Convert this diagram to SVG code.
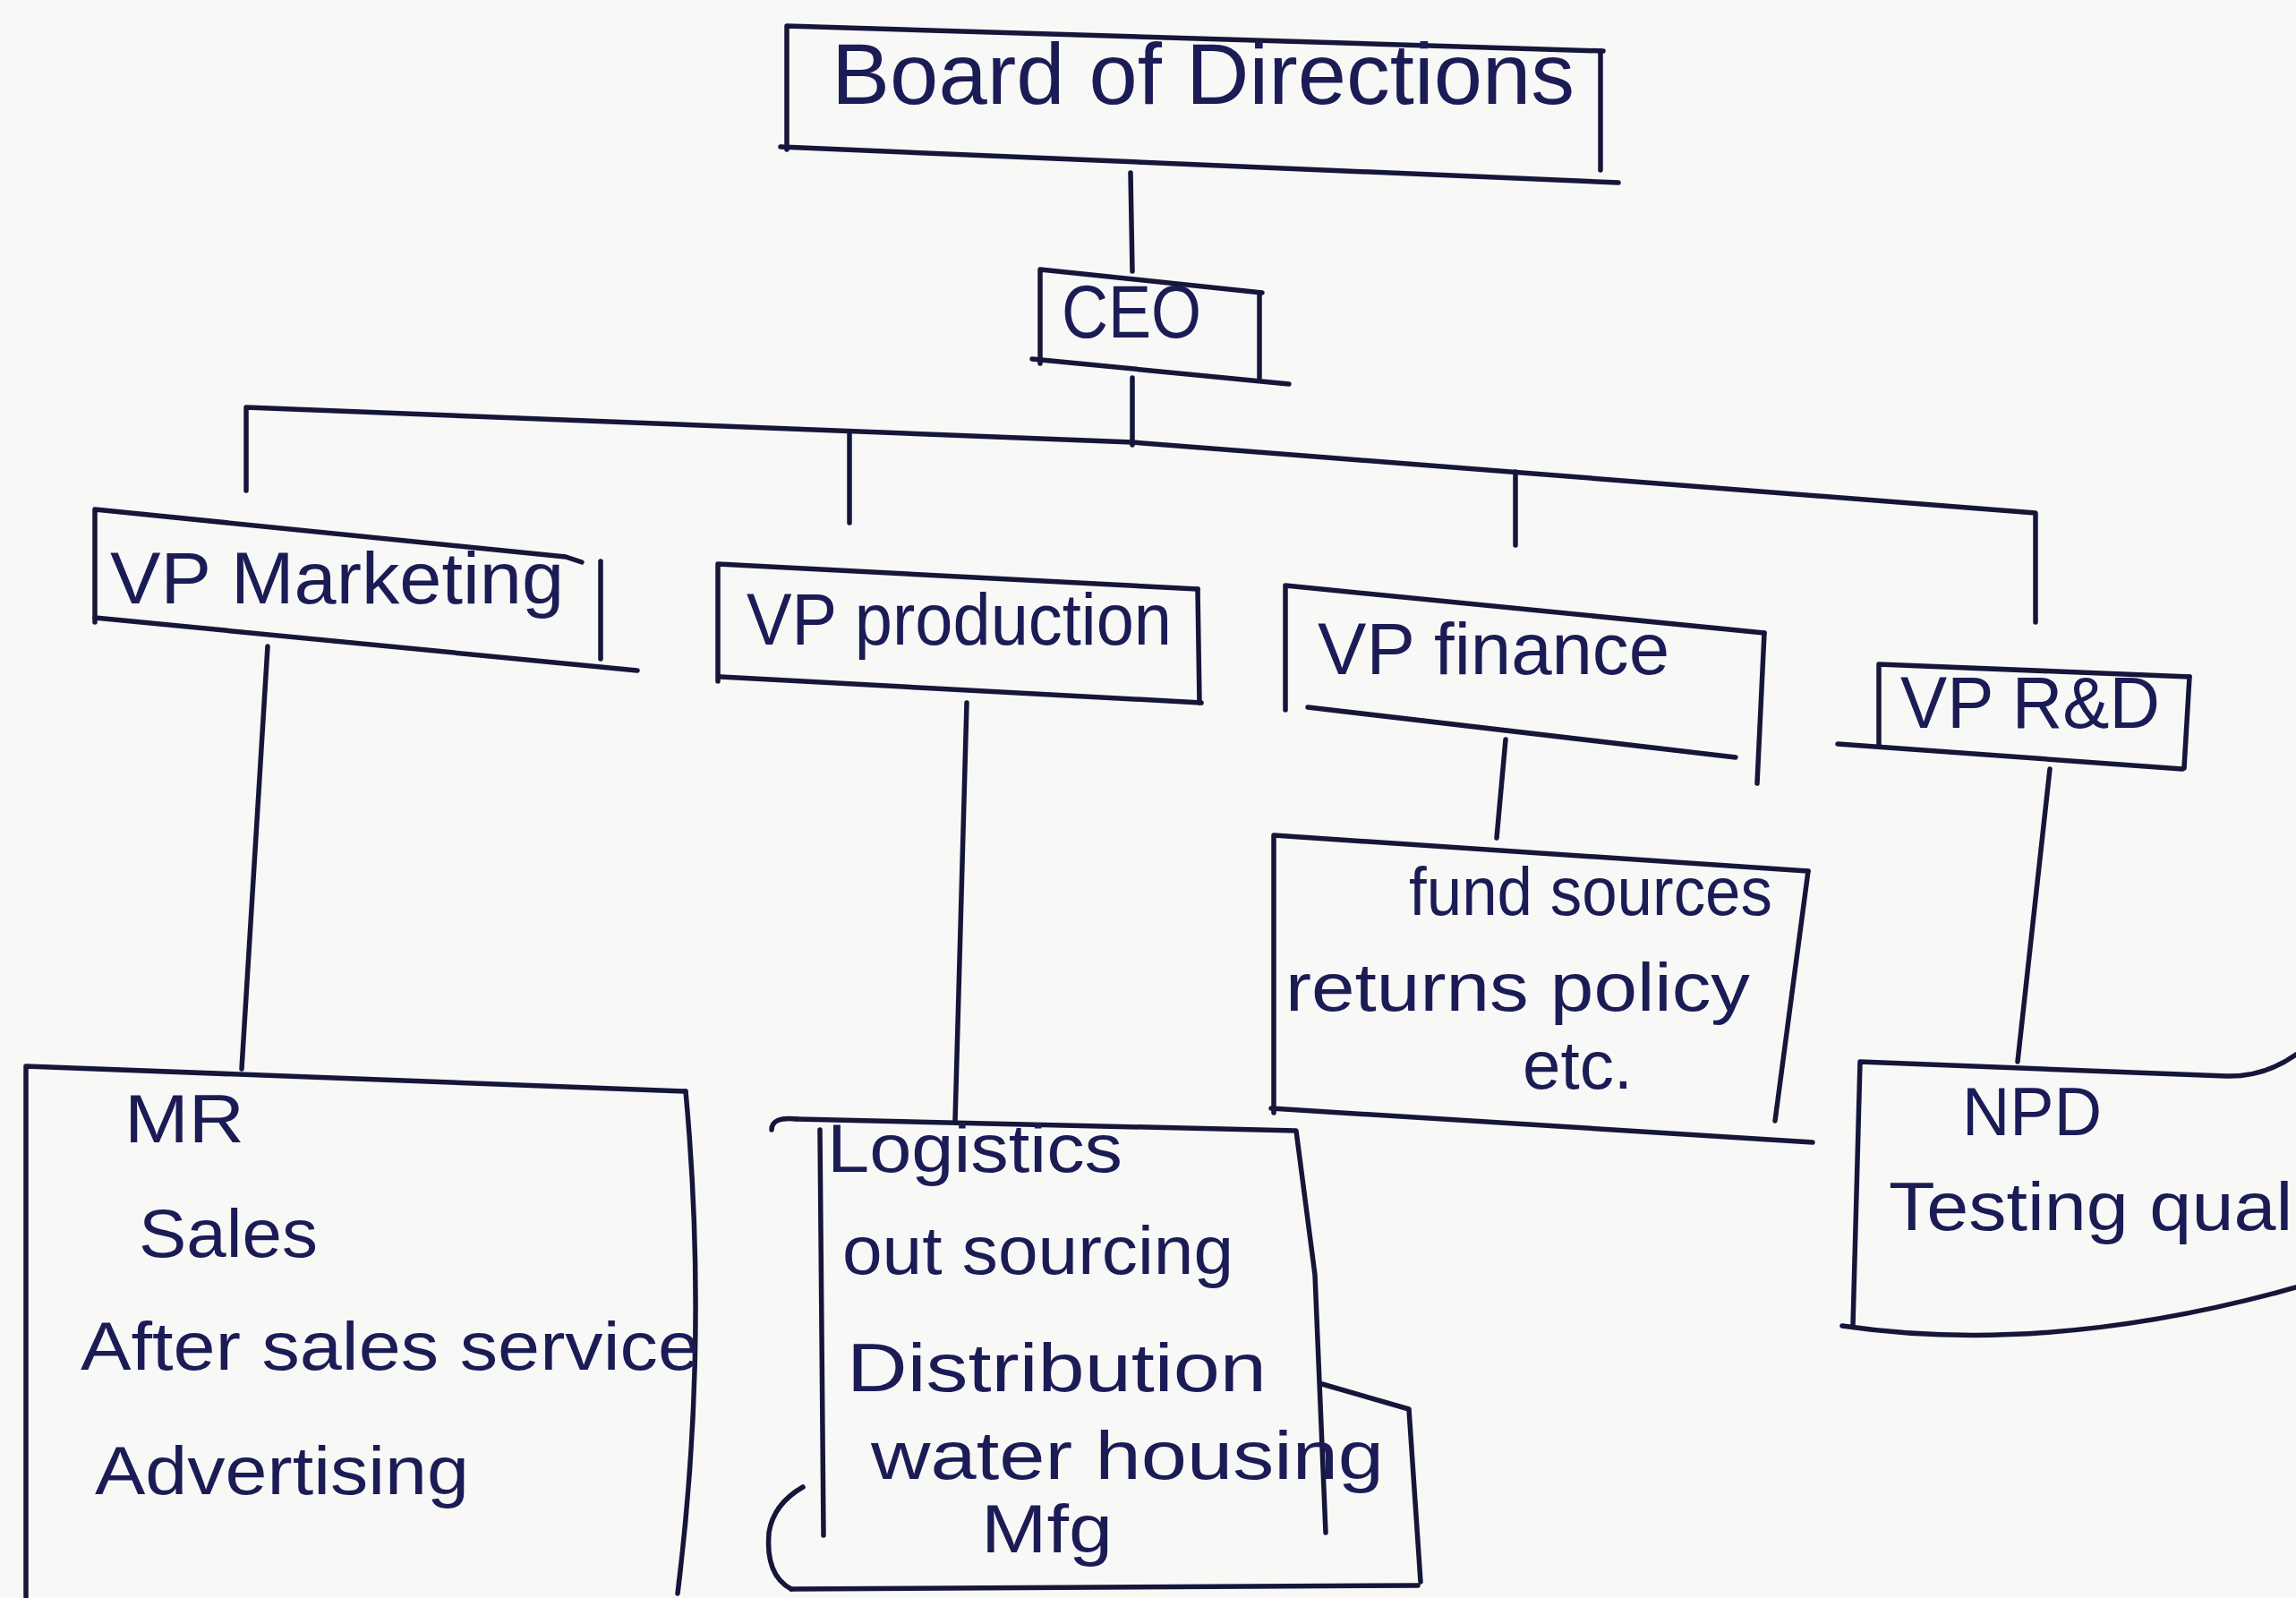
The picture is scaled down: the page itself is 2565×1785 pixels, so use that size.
<svg xmlns="http://www.w3.org/2000/svg" width="2565" height="1785" viewBox="0 0 2565 1785">
  <style>
    .ln { fill: none; stroke: #15163a; stroke-width: 5.5; stroke-linecap: round; stroke-linejoin: round; }
    .tx { font-family: "Liberation Sans", "DejaVu Sans", sans-serif; fill: #1b1c55; }
    .big { font-size: 96px; }
    .mid { font-size: 84px; }
    .vp { font-size: 82px; }
    .sm { font-size: 76px; }
  </style>
  <rect x="0" y="0" width="2565" height="1785" fill="#f8f8f6"/>

  <!-- connectors -->
  <g id="connectors">
    <path class="ln" d="M1263,193 L1265,303"/>
    <path class="ln" d="M1265,422 L1265,497"/>
    <path class="ln" d="M275,548 L275,455 L1265,494 L2274,573 L2274,695"/>
    <path class="ln" d="M949,482 L949,584"/>
    <path class="ln" d="M1693,527 L1693,609"/>
    <path class="ln" d="M299,722 L270,1194"/>
    <path class="ln" d="M1080,785 L1067,1252"/>
    <path class="ln" d="M1682,826 L1672,936"/>
    <path class="ln" d="M2290,859 L2254,1186"/>
  </g>

  <!-- Board -->
  <g id="board">
    <path class="ln" d="M879,167 L879,29 L1791,57"/>
    <path class="ln" d="M1788,57 L1788,190"/>
    <path class="ln" d="M872,164 L1808,204"/>
    <text class="tx big" x="929" y="116" textLength="830" lengthAdjust="spacingAndGlyphs">Board of Directions</text>
  </g>

  <!-- CEO -->
  <g id="ceo">
    <path class="ln" d="M1162,406 L1162,301 L1410,327"/>
    <path class="ln" d="M1407,327 L1407,422"/>
    <path class="ln" d="M1153,401 L1440,429"/>
    <text class="tx mid" x="1186" y="377" textLength="156" lengthAdjust="spacingAndGlyphs">CEO</text>
  </g>

  <!-- VP Marketing -->
  <g id="vp-marketing">
    <path class="ln" d="M106,695 L106,569 L632,622 L650,628"/>
    <path class="ln" d="M671,627 L671,736"/>
    <path class="ln" d="M106,690 L712,749"/>
    <text class="tx vp" x="123" y="674" textLength="507" lengthAdjust="spacingAndGlyphs">VP Marketing</text>
  </g>

  <!-- VP production -->
  <g id="vp-production">
    <path class="ln" d="M802,761 L802,630 L1338,658"/>
    <path class="ln" d="M1338,658 L1340,785"/>
    <path class="ln" d="M805,756 L1342,785"/>
    <text class="tx vp" x="834" y="720" textLength="475" lengthAdjust="spacingAndGlyphs">VP production</text>
  </g>

  <!-- VP finance -->
  <g id="vp-finance">
    <path class="ln" d="M1436,793 L1436,654 L1971,707"/>
    <path class="ln" d="M1971,707 L1963,875"/>
    <path class="ln" d="M1461,790 L1939,846"/>
    <text class="tx vp" x="1472" y="753" textLength="393" lengthAdjust="spacingAndGlyphs">VP finance</text>
  </g>

  <!-- VP R&D -->
  <g id="vp-rnd">
    <path class="ln" d="M2099,834 L2099,742 L2446,756"/>
    <path class="ln" d="M2446,756 L2440,858"/>
    <path class="ln" d="M2053,831 L2438,859"/>
    <text class="tx vp" x="2123" y="813" textLength="290" lengthAdjust="spacingAndGlyphs">VP R&amp;D</text>
  </g>

  <!-- Marketing functions -->
  <g id="marketing-functions">
    <path class="ln" d="M29,1785 L29,1191 L766,1219"/>
    <path class="ln" d="M766,1219 Q792,1500 757,1780"/>
    <text class="tx sm" x="139" y="1276" textLength="134" lengthAdjust="spacingAndGlyphs">MR</text>
    <text class="tx sm" x="155" y="1404" textLength="200" lengthAdjust="spacingAndGlyphs">Sales</text>
    <text class="tx sm" x="90" y="1530" textLength="692" lengthAdjust="spacingAndGlyphs">After sales service</text>
    <text class="tx sm" x="106" y="1669" textLength="418" lengthAdjust="spacingAndGlyphs">Advertising</text>
  </g>

  <!-- Production functions -->
  <g id="production-functions">
    <path class="ln" d="M884,1775 Q855,1760 859,1712 Q864,1680 897,1661"/>
    <path class="ln" d="M890,1250 Q862,1247 862,1262"/>
    <path class="ln" d="M890,1250 L1448,1263 L1469,1424 L1481,1712"/>
    <path class="ln" d="M916,1262 L920,1715"/>
    <path class="ln" d="M1477,1546 L1574,1574 L1587,1767"/>
    <path class="ln" d="M884,1775 L1584,1771"/>
    <text class="tx sm" x="924" y="1309" textLength="330" lengthAdjust="spacingAndGlyphs">Logistics</text>
    <text class="tx sm" x="941" y="1423" textLength="437" lengthAdjust="spacingAndGlyphs">out sourcing</text>
    <text class="tx sm" x="946" y="1554" textLength="469" lengthAdjust="spacingAndGlyphs">Distribution</text>
    <text class="tx sm" x="973" y="1652" textLength="573" lengthAdjust="spacingAndGlyphs">water housing</text>
    <text class="tx sm" x="1096" y="1734" textLength="147" lengthAdjust="spacingAndGlyphs">Mfg</text>
  </g>

  <!-- Finance functions -->
  <g id="finance-functions">
    <path class="ln" d="M1423,1243 L1423,933 L2020,973"/>
    <path class="ln" d="M2020,973 L1983,1252"/>
    <path class="ln" d="M1420,1238 L2025,1276"/>
    <text class="tx sm" x="1574" y="1022" textLength="406" lengthAdjust="spacingAndGlyphs">fund sources</text>
    <text class="tx sm" x="1436" y="1129" textLength="519" lengthAdjust="spacingAndGlyphs">returns policy</text>
    <text class="tx sm" x="1701" y="1216" textLength="123" lengthAdjust="spacingAndGlyphs">etc.</text>
  </g>

  <!-- R&D functions -->
  <g id="rnd-functions">
    <path class="ln" d="M2070,1481 L2078,1186 L2487,1202 Q2530,1203 2565,1178"/>
    <path class="ln" d="M2058,1481 Q2290,1515 2565,1438"/>
    <text class="tx sm" x="2192" y="1268" textLength="156" lengthAdjust="spacingAndGlyphs">NPD</text>
    <text class="tx sm" x="2110" y="1374" textLength="470" lengthAdjust="spacingAndGlyphs">Testing quali</text>
  </g>
</svg>
